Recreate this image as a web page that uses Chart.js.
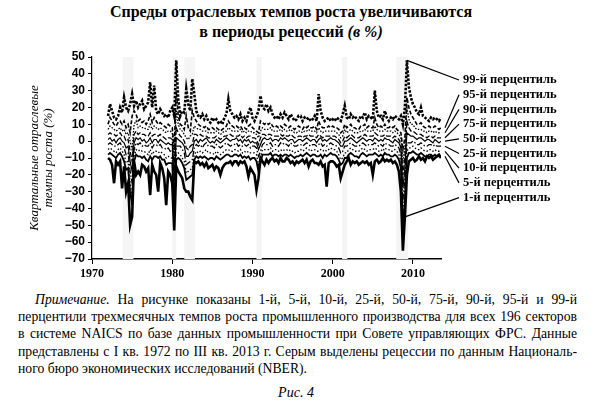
<!DOCTYPE html>
<html lang="ru">
<head>
<meta charset="utf-8">
<title>Спреды отраслевых темпов роста</title>
<script src="https://cdn.jsdelivr.net/npm/chart.js@4.4.1/dist/chart.umd.min.js"></script>
<style>
  body { margin: 0; width: 595px; height: 408px; background: #fff; color: #000; position: relative; overflow: hidden; font-family: "Liberation Serif", "DejaVu Serif", serif; }
  .title { position: absolute; left: 0; top: 2px; width: 582px; text-align: center; font-weight: bold; font-size: 16px; line-height: 20px; }
  .title i { font-weight: bold; }
  #chartBox { position: absolute; left: 0; top: 0; width: 595px; height: 290px; }
  .note { position: absolute; left: 18px; top: 291px; width: 559px; font-size: 13.7px; line-height: 17.2px; }
  .note div { text-align: justify; text-align-last: justify; }
  .note div.first { text-indent: 17px; }
  .note div.last { text-align-last: left; }
  .fig { position: absolute; left: 0; top: 384px; width: 592px; text-align: center; font-style: italic; font-size: 14px; line-height: 18px; }
</style>
</head>
<body>
<div class="title">Спреды отраслевых темпов роста увеличиваются<br>в периоды рецессий <i>(в %)</i></div>
<div id="chartBox"><canvas id="spreadChart" width="595" height="290"></canvas></div>
<div class="note">
  <div class="first"><i>Примечание.</i> На рисунке показаны 1-й, 5-й, 10-й, 25-й, 50-й, 75-й, 90-й, 95-й и 99-й</div>
  <div>перцентили трехмесячных темпов роста промышленного производства для всех 196 секторов</div>
  <div>в системе NAICS по базе данных промышленности при Совете управляющих ФРС. Данные</div>
  <div>представлены с I кв. 1972 по III кв. 2013 г. Серым выделены рецессии по данным Националь-</div>
  <div class="last">ного бюро экономических исследований (NBER).</div>
</div>
<div class="fig">Рис. 4</div>

<script>
// Quarterly growth percentiles, I кв. 1972 – III кв. 2013 (one row = 5 years)
const firstYear = 1972;

const p99 = [
  15, 22, 18, 14,  13, 15, 20, 17,  26, 20, 18, 22,  28, 21, 24, 20,  22, 24, 19, 21,
  23, 35, 20, 33,  18, 16, 19, 17,  15, 16, 14, 18,  20, 15, 48, 25,  15, 18, 17, 31,
  22, 18, 37, 28,  18, 15, 14, 16,  13, 15, 12, 11,  14, 12, 13, 11,  12, 10, 14, 16,
  25, 18, 16, 14,  15, 13, 16, 12,  14, 12, 17, 20,  14, 12, 15, 18,  27, 20, 19, 22,
  18, 20, 16, 14,  15, 13, 16, 14,  17, 15, 13, 16,  14, 12, 13, 15,  15, 12, 14, 13,
  14, 12, 13, 15,  12, 28, 18, 14,  12, 13, 14, 12,  13, 12, 14, 13,  12, 16, 21, 14,
  13, 16, 14, 15,  13, 12, 15, 14,  17, 13, 15, 14,  13, 30, 18, 14,  15, 13, 18, 14,
  12, 14, 13, 15,  14, 13, 15, 10,  20, 48, 32, 26,  22, 20, 17, 16,  20, 15, 14, 13,
  12, 14, 13, 14,  13, 12, 14
];
const p95 = [
  10, 14, 12, 10,  9, 11, 12, 10,  12, 8, 10, 5,  15, 18, 16, 12,  13, 11, 12, 10,
  12, 16, 11, 14,  12, 10, 11, 10,  9, 8, 10, 9,  8, -5, 30, 15,  10, 9, 7, 15,
  8, 6, 18, 14,  12, 10, 9, 9,  8, 9, 7, 7,  8, 7, 8, 7,  6, 7, 8, 9,
  12, 10, 9, 8,  9, 8, 9, 7,  8, 7, 9, 10,  8, 7, 6, 5,  12, 11, 10, 11,
  10, 11, 9, 8,  9, 8, 9, 8,  10, 9, 8, 9,  8, 7, 8, 9,  8, 7, 9, 8,
  9, 8, 8, 9,  7, 12, 9, 8,  8, 8, 9, 8,  9, 8, 8, 7,  5, 6, 10, 8,
  9, 10, 8, 8,  7, 7, 9, 9,  10, 8, 9, 8,  8, 14, 10, 8,  9, 8, 10, 8,
  8, 9, 8, 9,  7, 6, 5, -5,  2, 26, 20, 16,  14, 12, 10, 10,  11, 9, 8, 8,
  9, 8, 8, 9,  8, 7, 8
];
const p90 = [
  7, 9, 8, 7,  6, 7, 8, 6,  7, 4, 5, 0,  -5, 10, 12, 8,  9, 8, 8, 7,
  7, 10, 7, 9,  8, 7, 8, 7,  6, 5, 6, 6,  5, -10, 18, 10,  7, 6, 4, 2,
  1, 3, 4, 9,  8, 7, 7, 6,  6, 6, 5, 5,  5, 5, 6, 5,  4, 5, 6, 6,
  8, 7, 6, 6,  6, 6, 7, 5,  6, 5, 6, 6,  5, 5, 4, 2,  6, 8, 7, 7,
  7, 8, 6, 6,  6, 6, 7, 6,  7, 6, 6, 7,  6, 5, 5, 6,  6, 5, 6, 6,
  7, 6, 6, 6,  5, 8, 6, 5,  6, 6, 6, 6,  6, 6, 5, 4,  2, 3, 7, 5,
  6, 7, 6, 5,  5, 5, 6, 6,  7, 6, 6, 6,  6, 9, 7, 6,  6, 6, 7, 6,
  6, 6, 5, 6,  5, 4, 2, -12,  -4, 20, 13, 10,  10, 8, 7, 7,  7, 6, 6, 5,
  6, 6, 5, 6,  5, 5, 5
];
const p75 = [
  4, 5, 4, 4,  3, 4, 5, 3,  3, 0, 1, -6,  -12, 4, 6, 4,  5, 4, 4, 3,
  3, 5, 3, 4,  4, 3, 4, 3,  2, 1, 2, 2,  1, -17, 8, 5,  3, 2, 0, -4,
  -5, -3, -2, 4,  4, 3, 4, 3,  3, 3, 2, 2,  2, 2, 3, 2,  1, 2, 3, 3,
  4, 4, 3, 3,  3, 3, 4, 2,  3, 2, 3, 3,  2, 2, 1, -2,  2, 4, 4, 3,
  4, 4, 3, 3,  3, 3, 4, 3,  4, 3, 3, 4,  3, 2, 2, 3,  3, 2, 3, 3,
  4, 3, 3, 3,  2, 4, 3, 2,  3, 3, 3, 3,  3, 3, 2, 1,  -1, 0, 3, 2,
  3, 4, 3, 2,  2, 2, 3, 3,  4, 3, 3, 3,  3, 5, 4, 3,  3, 3, 4, 3,
  3, 3, 2, 3,  2, 1, -2, -20,  -10, 12, 8, 6,  6, 5, 4, 4,  4, 3, 3, 2,
  3, 3, 2, 3,  2, 2, 2
];
const p50 = [
  1, 2, 0, 1,  -1, 1, 2, 0,  -1, -4, -3, -12,  -18, -1, 2, 1,  2, 0, 1, -1,
  0, 2, -1, 1,  1, -1, 1, 0,  -1, -2, -1, -2,  -2, -23, 2, 1,  0, -1, -3, -9,
  -9, -7, -6, 0,  1, -1, 1, 0,  1, 2, 0, -1,  0, -1, 1, 0,  -1, 0, 1, 2,
  1, 0, 1, 1,  2, 0, 1, -1,  1, 0, 1, -1,  0, -1, -1, -5,  -2, 1, 2, 1,
  1, 2, 0, 1,  1, 0, 2, 1,  2, 1, 0, 1,  1, -1, 0, 1,  1, 0, 1, 2,
  1, 0, 1, 1,  -1, 1, 2, 0,  1, 0, 1, 2,  1, 1, 0, -1,  -3, -3, 0, 0,
  1, 2, 1, 0,  -1, 0, 1, 2,  1, 0, 1, 1,  0, 2, 1, 0,  1, 0, 2, 1,
  1, 0, -1, 1,  0, -1, -4, -28,  -16, 5, 4, 3,  3, 2, 1, 2,  2, 1, 0, 1,
  1, 0, -1, 1,  0, -1, 0
];
const p25 = [
  -2, -1, -2, -3,  -3, -2, -1, -3,  -4, -8, -7, -18,  -25, -5, -1, -2,  -1, -3, -2, -3,
  -3, -1, -4, -2,  -2, -3, -2, -4,  -4, -5, -4, -6,  -5, -29, -3, -3,  -3, -5, -7, -14,
  -13, -12, -11, -4,  -2, -3, -2, -4,  -2, -1, -3, -3,  -3, -4, -2, -3,  -4, -3, -2, -1,
  -2, -3, -2, -2,  -1, -3, -2, -3,  -2, -3, -2, -4,  -3, -3, -4, -9,  -6, -2, -1, -2,
  -2, -1, -3, -2,  -2, -3, -1, -2,  -1, -2, -3, -1,  -2, -3, -3, -2,  -2, -3, -2, -1,
  -2, -3, -2, -2,  -3, -2, -1, -3,  -2, -3, -2, -1,  -2, -2, -3, -4,  -7, -6, -3, -3,
  -2, -1, -2, -3,  -3, -3, -2, -1,  -2, -3, -2, -2,  -2, -1, -2, -3,  -2, -3, -1, -2,
  -2, -3, -3, -2,  -3, -4, -8, -36,  -22, -1, -1, -1,  0, -1, -2, -2,  -1, -2, -3, -3,
  -2, -2, -3, -2,  -3, -3, -3
];
const p10 = [
  -5, -4, -5, -6,  -7, -5, -4, -6,  -8, -13, -12, -25,  -32, -9, -5, -6,  -5, -6, -6, -7,
  -8, -5, -8, -6,  -6, -7, -6, -7,  -8, -10, -9, -10,  -10, -36, -8, -7,  -8, -10, -12, -19,
  -18, -17, -16, -8,  -6, -7, -6, -7,  -6, -5, -7, -7,  -7, -8, -6, -7,  -8, -7, -6, -5,
  -5, -6, -6, -5,  -5, -6, -5, -7,  -6, -7, -6, -7,  -7, -7, -8, -14,  -10, -5, -5, -5,
  -5, -4, -6, -5,  -5, -6, -5, -6,  -5, -5, -6, -5,  -6, -7, -6, -6,  -5, -6, -5, -4,
  -5, -6, -5, -5,  -6, -6, -5, -6,  -5, -6, -5, -4,  -5, -5, -6, -8,  -11, -10, -7, -7,
  -5, -4, -5, -6,  -6, -6, -5, -4,  -5, -6, -5, -5,  -5, -4, -5, -6,  -5, -6, -4, -5,
  -5, -6, -6, -5,  -6, -8, -12, -44,  -30, -6, -4, -4,  -3, -4, -5, -5,  -4, -5, -6, -6,
  -5, -5, -6, -5,  -6, -6, -6
];
const p5 = [
  -8, -7, -8, -9,  -10, -8, -7, -9,  -12, -17, -16, -30,  -38, -12, -8, -9,  -9, -10, -9, -11,
  -12, -9, -11, -9,  -9, -10, -9, -11,  -11, -14, -13, -13,  -13, -42, -11, -10,  -11, -13, -16, -23,
  -22, -21, -20, -11,  -9, -10, -9, -10,  -9, -10, -11, -10,  -10, -11, -9, -10,  -11, -10, -9, -8,
  -8, -9, -9, -8,  -8, -9, -8, -10,  -9, -10, -9, -11,  -10, -10, -12, -18,  -13, -8, -8, -8,
  -8, -7, -9, -8,  -8, -9, -8, -9,  -8, -8, -9, -8,  -9, -10, -9, -9,  -8, -9, -8, -7,
  -8, -9, -8, -8,  -9, -9, -8, -10,  -8, -9, -8, -7,  -8, -8, -9, -11,  -14, -13, -10, -10,
  -8, -7, -8, -9,  -9, -10, -8, -7,  -8, -9, -8, -8,  -8, -7, -8, -9,  -8, -9, -7, -8,
  -8, -9, -9, -8,  -9, -11, -16, -52,  -36, -10, -7, -7,  -6, -7, -8, -8,  -7, -8, -9, -9,
  -8, -8, -9, -8,  -9, -9, -9
];
const p1 = [
  -10, -11, -14, -25,  -12, -14, -12, -28,  -15, -30, -25, -50,  -45, -12, -20, -18,  -20, -14, -15, -18,
  -16, -32, -14, -18,  -20, -30, -13, -16,  -22, -38, -18, -20,  -25, -53, -15, -18,  -20, -22, -28, -30,
  -30, -33, -35, -12,  -13, -12, -14, -13,  -15, -13, -16, -15,  -14, -17, -15, -16,  -20, -16, -14, -13,
  -13, -12, -14, -12,  -12, -14, -12, -13,  -12, -15, -21, -16,  -18, -20, -29, -22,  -10, -12, -14, -11,
  -13, -11, -10, -12,  -11, -13, -10, -12,  -12, -10, -11, -13,  -12, -14, -12, -13,  -12, -11, -13, -11,
  -15, -12, -11, -13,  -13, -14, -12, -15,  -14, -27, -13, -12,  -12, -13, -15, -14,  -22, -18, -14, -12,
  -10, -14, -12, -13,  -12, -14, -13, -12,  -13, -12, -14, -13,  -20, -12, -11, -13,  -12, -10, -12, -11,
  -12, -11, -13, -12,  -14, -18, -30, -65,  -45, -20, -12, -11,  -10, -12, -11, -9,  -11, -10, -12, -9,
  -10, -9, -11, -10,  -9, -8, -10
];

const quarters = p50.map((_, i) => firstYear + i / 4);

const seriesLabels = [
  "99-й перцентиль", "95-й перцентиль", "90-й перцентиль", "75-й перцентиль", "50-й перцентиль",
  "25-й перцентиль", "10-й перцентиль", "5-й перцентиль", "1-й перцентиль"
];
const seriesValues = [p99, p95, p90, p75, p50, p25, p10, p5, p1];

// NBER recessions (start, end) in fractional years
const recessions = [
  [1973.83, 1975.17], [1980.0, 1980.5], [1981.5, 1982.83],
  [1990.5, 1991.17], [2001.17, 2001.83], [2007.92, 2009.42]
];

const xTickValues = [1970, 1980, 1990, 2000, 2010];
const yTickValues = [50, 40, 30, 20, 10, 0, -10, -20, -30, -40, -50, -60, -70];

// line look per percentile, top to bottom
const lineStyles = [
  { width: 2.6, dash: [2.5, 1.5] },
  { width: 1.6, dash: [4, 2] },
  { width: 1.3, dash: [1.5, 1.5] },
  { width: 1.3, dash: [5, 2] },
  { width: 1.2, dash: [] },
  { width: 1.3, dash: [6, 2, 1.5, 2] },
  { width: 1.3, dash: [1.5, 2] },
  { width: 1.8, dash: [] },
  { width: 2.6, dash: [] },
];

const serifFont = "'Liberation Serif', 'DejaVu Serif', serif";
const narrowFont = "'Liberation Sans Narrow', 'Liberation Sans', sans-serif";

// Faint gray recession bands behind the lines
const recessionShading = {
  id: "recessionShading",
  beforeDatasetsDraw(chart) {
    const { ctx, chartArea, scales: { x } } = chart;
    ctx.save();
    ctx.fillStyle = "#f5f5f5";
    recessions.forEach(([from, to]) => {
      const left = x.getPixelForValue(from);
      const right = x.getPixelForValue(to);
      ctx.fillRect(left, chartArea.top, right - left, chartArea.bottom - chartArea.top);
    });
    ctx.restore();
  },
};

// Percentile names on the right with leader lines
const percentileLabels = {
  id: "percentileLabels",
  afterDraw(chart) {
    const { ctx, chartArea, scales: { x, y } } = chart;
    const labelX = chartArea.right + 22;
    const lastIndex = seriesValues.length - 1;
    ctx.save();
    ctx.font = "bold 12.5px " + serifFont;
    ctx.textBaseline = "middle";
    ctx.fillStyle = "#000";
    ctx.strokeStyle = "#000";
    ctx.lineWidth = 1.2;
    seriesValues.forEach((values, i) => {
      const labelY = chartArea.top + 23 + i * 14.7;
      let startX, startY;
      if (i === 0) {
        const k = values.lastIndexOf(Math.max(...values));
        startX = x.getPixelForValue(quarters[k]);
        startY = y.getPixelForValue(values[k]);
      } else if (i === lastIndex) {
        const k = values.indexOf(Math.min(...values)) + 1;
        startX = x.getPixelForValue(quarters[k]);
        startY = y.getPixelForValue(values[k]);
      } else {
        const k = values.length - 1;
        startX = x.getPixelForValue(quarters[k]) + 4;
        startY = y.getPixelForValue(values[k]);
      }
      ctx.beginPath();
      ctx.moveTo(startX, startY);
      ctx.lineTo(labelX - 4, labelY);
      ctx.stroke();
      ctx.fillText(seriesLabels[i], labelX, labelY);
    });
    ctx.restore();
  },
};

function createSpreadChart() {
  const ctx = document.getElementById("spreadChart").getContext("2d");
  return new Chart(ctx, {
    type: "line",
    data: {
      datasets: seriesValues.map((values, i) => ({
        label: seriesLabels[i],
        data: values.map((v, k) => ({ x: quarters[k], y: v })),
        borderColor: "#000",
        borderWidth: lineStyles[i].width,
        borderDash: lineStyles[i].dash,
        pointRadius: 0,
        tension: 0,
        fill: false,
      })),
    },
    options: {
      responsive: false,
      animation: false,
      layout: { padding: { left: 0, right: 154, top: 57, bottom: 0 } },
      plugins: {
        legend: { display: false },
        tooltip: { enabled: false },
      },
      scales: {
        x: {
          type: "linear",
          min: 1970,
          max: 2013.5,
          afterBuildTicks: scale => { scale.ticks = xTickValues.map(v => ({ value: v })); },
          afterFit: scale => { scale.height = 31; },
          grid: { drawOnChartArea: false, color: "#000", tickLength: 5 },
          border: { color: "#000", width: 1.6 },
          ticks: {
            color: "#000",
            padding: 3,
            maxRotation: 0,
            autoSkip: false,
            font: { family: serifFont, weight: "bold", size: 12 },
            callback: v => String(v),
          },
        },
        y: {
          min: -70,
          max: 50,
          afterBuildTicks: scale => { scale.ticks = yTickValues.map(v => ({ value: v })); },
          afterFit: scale => { scale.width = 92; },
          grid: { drawOnChartArea: false, color: "#000", tickLength: 4 },
          border: { color: "#000", width: 1.2 },
          ticks: {
            color: "#000",
            padding: 3,
            autoSkip: false,
            font: { family: narrowFont, weight: "bold", size: 12 },
            callback: v => String(v).replace("-", "\u2212"),
          },
          title: {
            display: true,
            text: ["Квартальные отраслевые", "темпы роста (%)"],
            color: "#000",
            font: { family: serifFont, style: "italic", size: 13, lineHeight: 1.1 },
            padding: { top: 27, bottom: 0 },
          },
        },
      },
    },
    plugins: [recessionShading, percentileLabels],
  });
}

document.addEventListener("DOMContentLoaded", () => {
  createSpreadChart();
});
</script>
</body>
</html>
